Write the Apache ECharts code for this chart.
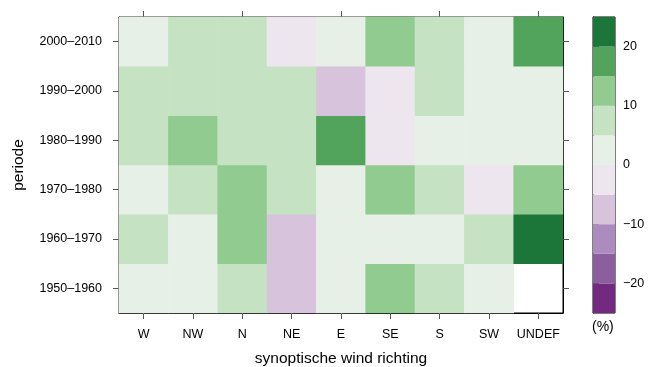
<!DOCTYPE html>
<html>
<head>
<meta charset="utf-8">
<script src="https://cdn.jsdelivr.net/npm/echarts@6/dist/echarts.min.js"></script>
<style>
  html, body { margin: 0; padding: 0; background: #fff; }
  #chart { width: 660px; height: 367px; }
</style>
</head>
<body>
<div id="chart"></div>
<script>
// wind directions (x) and periods (y, bottom to top)
const windDirs = ['W', 'NW', 'N', 'NE', 'E', 'SE', 'S', 'SW', 'UNDEF']
const periods = ['1950–1960', '1960–1970', '1970–1980', '1980–1990', '1990–2000', '2000–2010']

// percentage change per wind direction, one array per period
const pct1950 = [1, 3, 7, -8, 2, 12, 6, 2, null]
const pct1960 = [8, 4, 11, -6, 2, 3, 1, 6, 23]
const pct1970 = [3, 8, 12, 6, 2, 11, 7, -3, 13]
const pct1980 = [7, 11, 7, 6, 17, -2, 3, 2, 4]
const pct1990 = [6, 7, 6, 6, -7, -3, 7, 3, 2]
const pct2000 = [2, 7, 6, -2, 3, 12, 8, 3, 18]
const rows = [pct1950, pct1960, pct1970, pct1980, pct1990, pct2000]

// colour key
const binEdges = [-25, -20, -15, -10, -5, 0, 5, 10, 15, 20, 25]
const binColors = ['#72297f', '#8b5e9e', '#ac8cbe', '#d7c3dc', '#eee6ef',
                   '#e6f0e6', '#c5e3c3', '#92cb8f', '#52a35c', '#1d7639']
const keyTicks = [-20, -10, 0, 10, 20]

const cells = []
rows.forEach((row, yi) => {
  row.forEach((v, xi) => {
    if (v !== null) cells.push([xi, yi, v])
  })
})

const pieces = binColors.map((c, i) => ({ gte: binEdges[i], lt: binEdges[i + 1], color: c }))
const keyData = binColors.map((c, i) => [0, binEdges[i], binEdges[i + 1]])

const font = 'Liberation Sans, Arial, Helvetica, sans-serif'
const tickStyle = { color: '#555', width: 1 }
const lineStyle = { color: '#000', width: 1 }
const lab = { color: '#000', fontFamily: font, fontSize: 12.5 }

const chart = echarts.init(document.getElementById('chart'))
chart.setOption({
  animation: false,
  backgroundColor: '#fff',
  grid: [
    { left: 119, top: 17, width: 444, height: 296, outerBoundsMode: 'none', containLabel: false,
      show: true, borderColor: '#000', borderWidth: 1, backgroundColor: 'transparent' },
    { left: 593, top: 17, width: 22, height: 296, outerBoundsMode: 'none', containLabel: false,
      show: true, borderColor: '#000', borderWidth: 1, backgroundColor: 'transparent' }
  ],
  visualMap: {
    type: 'piecewise',
    show: false,
    seriesIndex: 0,
    dimension: 2,
    pieces: pieces
  },
  xAxis: [
    {
      type: 'category', gridIndex: 0, data: windDirs, position: 'bottom',
      axisLine: { show: true, lineStyle: lineStyle },
      axisTick: { show: true, alignWithLabel: true, length: 6, lineStyle: tickStyle },
      axisLabel: Object.assign({ margin: 15, interval: 0 }, lab),
      splitLine: { show: false },
      name: 'synoptische wind richting', nameLocation: 'middle', nameGap: 38,
      nameTextStyle: { color: '#000', fontFamily: font, fontSize: 15.5 }
    },
    {
      type: 'category', gridIndex: 0, data: windDirs, position: 'top',
      axisLine: { show: true, lineStyle: lineStyle },
      axisTick: { show: true, alignWithLabel: true, length: 6, lineStyle: tickStyle },
      axisLabel: { show: false },
      splitLine: { show: false }
    },
    {
      type: 'value', gridIndex: 1, min: 0, max: 1, show: false
    }
  ],
  yAxis: [
    {
      type: 'category', gridIndex: 0, data: periods, position: 'left',
      axisLine: { show: true, lineStyle: lineStyle },
      axisTick: { show: true, alignWithLabel: true, length: 6, lineStyle: tickStyle },
      axisLabel: Object.assign({ margin: 17 }, lab),
      splitLine: { show: false },
      name: 'periode', nameLocation: 'middle', nameGap: 92, nameRotate: 90,
      nameTextStyle: { color: '#000', fontFamily: font, fontSize: 15.5 }
    },
    {
      type: 'category', gridIndex: 0, data: periods, position: 'right',
      axisLine: { show: true, lineStyle: lineStyle },
      axisTick: { show: true, alignWithLabel: true, length: 6, lineStyle: tickStyle },
      axisLabel: { show: false },
      splitLine: { show: false }
    },
    {
      type: 'value', gridIndex: 1, min: -25, max: 25, position: 'right',
      axisLine: { show: true, lineStyle: lineStyle },
      axisTick: { show: true, length: 6, lineStyle: tickStyle, customValues: keyTicks },
      axisLabel: Object.assign({
        margin: 8, customValues: keyTicks,
        formatter: v => String(v).replace('-', '−')
      }, lab),
      splitLine: { show: false }
    }
  ],
  graphic: [
    {
      type: 'text', left: 592, top: 320,
      style: { text: '(%)', fill: '#000', font: '14px ' + font }
    }
  ],
  series: [
    {
      type: 'heatmap',
      xAxisIndex: 0, yAxisIndex: 0,
      data: cells,
      itemStyle: { borderWidth: 0 },
      emphasis: { disabled: true },
      z: 1
    },
    {
      type: 'custom',
      xAxisIndex: 2, yAxisIndex: 2,
      data: keyData,
      clip: false,
      z: 1,
      renderItem: function (params, api) {
        const p1 = api.coord([0, api.value(2)])
        const p2 = api.coord([1, api.value(1)])
        return {
          type: 'rect',
          shape: { x: p1[0], y: p1[1], width: p2[0] - p1[0], height: p2[1] - p1[1] },
          style: { fill: binColors[params.dataIndex] }
        }
      }
    }
  ]
})
</script>
</body>
</html>
